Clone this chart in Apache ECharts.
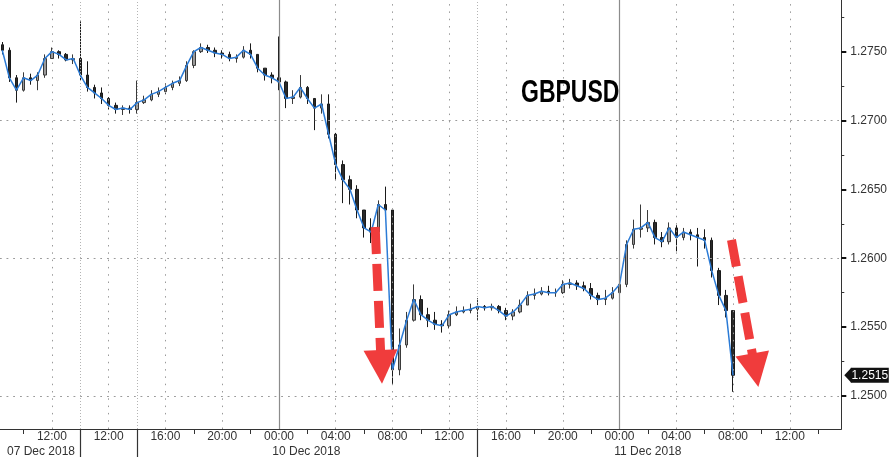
<!DOCTYPE html>
<html><head><meta charset="utf-8">
<script src="https://cdn.jsdelivr.net/npm/echarts@6/dist/echarts.min.js"></script>
<style>html,body{margin:0;padding:0;background:#fff}#c{width:890px;height:461px}</style>
</head><body><div id="c"></div>
<script>
// 30-minute bars, x in chart hours relative to the "07 Dec 12:00" gridline
const openP  = [1.2755,1.2751,1.2731,1.2722,1.2731,1.2729,1.2733,1.2745,1.2750,1.2748,1.2744,1.2745,1.2733,1.2724,1.2720,1.2716,1.2711,1.2708,1.2709,1.2708,1.2713,1.2715,1.2719,1.2721,1.2724,1.2727,1.2729,1.2740,1.2750,1.2753,1.2751,1.2749,1.2748,1.2745,1.2746,1.2751,1.2748,1.2738,1.2733,1.2731,1.2728,1.2716,1.2717,1.2724,1.2716,1.2709,1.2712,1.2690,1.2668,1.2657,1.2650,1.2635,1.2622,1.2619,1.2639,1.2635,1.2519,1.2537,1.2555,1.2570,1.2559,1.2555,1.2552,1.2551,1.2559,1.2561,1.2562,1.2563,1.2565,1.2564,1.2565,1.2562,1.2558,1.2561,1.2566,1.2573,1.2574,1.2576,1.2575,1.2575,1.2581,1.2582,1.2580,1.2578,1.2573,1.2570,1.2571,1.2575,1.2581,1.2610,1.2621,1.2622,1.2626,1.2615,1.2612,1.2622,1.2615,1.2619,1.2617,1.2615,1.2613,1.2591,1.2573,1.2562];
const highP  = [1.2757,1.2753,1.2733,1.2735,1.2734,1.2735,1.2748,1.2753,1.2751,1.2749,1.2748,1.2772,1.2743,1.2726,1.2724,1.2717,1.2713,1.2711,1.2711,1.2729,1.2718,1.2722,1.2724,1.2727,1.2729,1.2732,1.2743,1.2751,1.2756,1.2755,1.2753,1.2751,1.2750,1.2748,1.2754,1.2756,1.2748,1.2738,1.2735,1.2761,1.2729,1.2722,1.2733,1.2725,1.2716,1.2719,1.2719,1.2691,1.2671,1.2660,1.2653,1.2635,1.2629,1.2642,1.2652,1.2636,1.2549,1.2561,1.2581,1.2573,1.2564,1.2561,1.2555,1.2562,1.2565,1.2565,1.2567,1.2571,1.2566,1.2567,1.2566,1.2564,1.2563,1.2570,1.2576,1.2578,1.2579,1.2580,1.2578,1.2584,1.2585,1.2584,1.2583,1.2582,1.2575,1.2577,1.2579,1.2586,1.2613,1.2628,1.2639,1.2635,1.2628,1.2619,1.2626,1.2624,1.2622,1.2621,1.2622,1.2621,1.2615,1.2593,1.2577,1.2562];
const lowP   = [1.2748,1.2728,1.2713,1.2721,1.2726,1.2722,1.2731,1.2745,1.2745,1.2743,1.2741,1.2729,1.2721,1.2716,1.2712,1.2708,1.2705,1.2704,1.2705,1.2705,1.2712,1.2714,1.2717,1.2719,1.2722,1.2725,1.2728,1.2738,1.2749,1.2749,1.2746,1.2745,1.2743,1.2742,1.2745,1.2745,1.2735,1.2729,1.2727,1.2722,1.2709,1.2712,1.2716,1.2712,1.2693,1.2705,1.2687,1.2657,1.2640,1.2639,1.2629,1.2615,1.2611,1.2617,1.2631,1.2508,1.2515,1.2535,1.2554,1.2555,1.2550,1.2548,1.2546,1.2549,1.2558,1.2560,1.2560,1.2555,1.2562,1.2562,1.2560,1.2555,1.2555,1.2560,1.2566,1.2570,1.2573,1.2573,1.2572,1.2574,1.2578,1.2577,1.2576,1.2570,1.2566,1.2566,1.2570,1.2571,1.2579,1.2607,1.2615,1.2619,1.2610,1.2608,1.2610,1.2605,1.2613,1.2613,1.2594,1.2607,1.2586,1.2566,1.2557,1.2503];
const closeP = [1.2751,1.2731,1.2722,1.2731,1.2729,1.2733,1.2745,1.2750,1.2748,1.2744,1.2745,1.2733,1.2724,1.2720,1.2716,1.2711,1.2708,1.2709,1.2708,1.2713,1.2715,1.2719,1.2721,1.2724,1.2727,1.2729,1.2740,1.2750,1.2753,1.2751,1.2749,1.2748,1.2745,1.2746,1.2751,1.2748,1.2738,1.2733,1.2731,1.2728,1.2716,1.2717,1.2724,1.2716,1.2709,1.2712,1.2690,1.2668,1.2657,1.2650,1.2635,1.2622,1.2619,1.2639,1.2635,1.2519,1.2537,1.2555,1.2570,1.2559,1.2555,1.2552,1.2551,1.2559,1.2561,1.2562,1.2563,1.2565,1.2564,1.2565,1.2562,1.2558,1.2561,1.2566,1.2573,1.2574,1.2576,1.2575,1.2575,1.2581,1.2582,1.2580,1.2578,1.2573,1.2570,1.2571,1.2575,1.2581,1.2610,1.2621,1.2622,1.2626,1.2615,1.2612,1.2622,1.2615,1.2619,1.2617,1.2615,1.2613,1.2591,1.2573,1.2562,1.2515];
const firstBarHour = -3.5;
const barStepHours = 0.5;

const timeLabelPos = [0,4,8,12,16,20,24,28,32,36,40,44,48,52];
const timeLabels = ['12:00','12:00','16:00','20:00','00:00','04:00','08:00','12:00','16:00','20:00','00:00','04:00','08:00','12:00'];
const tickHours = [-2,10,14,18,22,26,34,38,42,46,50,54];
const dateLabelPos = [-0.77, 17.93, 42.0];
const dateLabels = ['07 Dec 2018','10 Dec 2018','11 Dec 2018'];
const sepHours = [2, 6, 30];
const dottedHours = [0,4,8,12,20,24,28,32,36,44,48,52];
const midnightHours = [16, 40];
const priceLevels = [1.2500,1.2550,1.2600,1.2650,1.2700,1.2750];
const minorLevels = [1.2525,1.2575,1.2625,1.2675,1.2725,1.2775];
const lastPrice = 1.2515;
const arrowPaths = [
  [[22.78, 1.26227],[23.21, 1.25211]],
  [[47.89, 1.26133],[49.57, 1.25187]]
];

const X_MIN = -3.66, X_MAX = 55.63, Y_MIN = 1.2476, Y_MAX = 1.27875;

const barHours = openP.map((_, i) => firstBarHour + i * barStepHours);
const candleData = barHours.map((h, i) => [h, openP[i], closeP[i], lowP[i], highP[i]]);
const lineData = barHours.map((h, i) => [h, closeP[i]]);
const FONT = 'Liberation Sans';
const near = (arr, v) => arr.findIndex(a => Math.abs(a - v) < 1e-6);

const gridMarks = []
  .concat(dottedHours.map(h => ({xAxis: h, lineStyle: {color: '#9a9a9a', width: 1, type: [1.5, 5.8]}})))
  .concat(sepHours.map(h => ({xAxis: h, lineStyle: {color: '#b4b4b4', width: 1, type: [1, 2]}})))
  .concat(midnightHours.map(h => ({xAxis: h, lineStyle: {color: '#8c8c8c', width: 1.2, type: 'solid'}})))
  .concat(priceLevels.map(p => ({yAxis: p, lineStyle: {color: '#9a9a9a', width: 1, type: [1.5, 5.2]}})));

const chart = echarts.init(document.getElementById('c'), null, {renderer: 'canvas'});
chart.setOption({
  animation: false,
  backgroundColor: '#ffffff',
  grid: {left: 0, right: 47, top: 0, bottom: 32, containLabel: false},
  xAxis: [
    {type: 'value', min: X_MIN, max: X_MAX, position: 'bottom',
     axisLine: {show: true, onZero: false, lineStyle: {color: '#333', width: 1}},
     axisTick: {show: true, customValues: tickHours, length: 5, lineStyle: {color: '#333'}},
     axisLabel: {show: true, customValues: timeLabelPos, margin: 2, color: '#333', fontFamily: FONT, fontSize: 12,
       formatter: v => { const k = near(timeLabelPos, v); return k >= 0 ? timeLabels[k] : ''; }},
     splitLine: {show: false}},
    {type: 'value', min: X_MIN, max: X_MAX, position: 'bottom', offset: 15,
     axisLine: {show: false, onZero: false}, axisTick: {show: false},
     axisLabel: {show: true, customValues: dateLabelPos, margin: 2, color: '#333', fontFamily: FONT, fontSize: 12,
       formatter: v => { const k = near(dateLabelPos, v); return k >= 0 ? dateLabels[k] : ''; }},
     splitLine: {show: false}},
    {type: 'value', min: X_MIN, max: X_MAX, position: 'bottom',
     axisLine: {show: false, onZero: false},
     axisTick: {show: true, customValues: sepHours, length: 28, lineStyle: {color: '#333', width: 1.2}},
     axisLabel: {show: false}, splitLine: {show: false}}
  ],
  yAxis: [
    {type: 'value', min: Y_MIN, max: Y_MAX, position: 'right', scale: true,
     axisLine: {show: true, onZero: false, lineStyle: {color: '#333', width: 1}},
     axisTick: {show: true, customValues: priceLevels, length: 5, lineStyle: {color: '#111', width: 2}},
     axisLabel: {show: true, customValues: priceLevels, margin: 9, color: '#333', fontFamily: FONT, fontSize: 12,
       formatter: v => v.toFixed(4)},
     splitLine: {show: false}},
    {type: 'value', min: Y_MIN, max: Y_MAX, position: 'right', scale: true,
     axisLine: {show: false, onZero: false},
     axisTick: {show: true, customValues: minorLevels, length: 3, lineStyle: {color: '#333', width: 1}},
     axisLabel: {show: false}, splitLine: {show: false}}
  ],
  graphic: [
    {type: 'text', x: 521, y: 78, scaleY: 1.35, z: 100,
     style: {text: 'GBPUSD', font: 'bold 23px "Liberation Sans"', fill: '#000', textVerticalAlign: 'top'}}
  ],
  series: [
    {type: 'line', name: 'grid', data: [], silent: true, z: 1, clip: false,
     markLine: {silent: true, symbol: ['none', 'none'], label: {show: false}, animation: false, data: gridMarks}},
    {type: 'candlestick', name: 'GBPUSD bars', data: candleData, barWidth: 3, z: 3,
     itemStyle: {color: '#9a9a9a', color0: '#2a2a2a', borderColor: '#3a3a3a', borderColor0: '#1a1a1a', borderWidth: 1}},
    {type: 'line', name: 'GBPUSD', data: lineData, showSymbol: false, symbol: 'none', z: 4,
     lineStyle: {color: '#2b7bd6', width: 1.5}},
    {type: 'line', name: 'annotations', data: [], silent: true, z: 10, clip: false,
     markPoint: {silent: true, animation: false,
       data: [
         {coord: [X_MAX, lastPrice], symbol: 'triangle', symbolSize: [15, 7], symbolRotate: 90,
          symbolOffset: [6.5, 0], itemStyle: {color: '#111'}, label: {show: false}},
         {coord: [X_MAX, lastPrice], symbol: 'rect', symbolSize: [38, 15], symbolOffset: [28.5, 0],
          itemStyle: {color: '#111'},
          label: {show: true, position: 'inside', formatter: lastPrice.toFixed(4), color: '#fff',
                  fontFamily: FONT, fontSize: 12}}
       ]},
     markLine: {silent: true, animation: false,
       data: arrowPaths.map(p => [
         {coord: p[0], symbol: 'none', lineStyle: {color: '#f03c3c', width: 9, type: [27, 10], cap: 'butt', opacity: 1}, label: {show: false}},
         {coord: p[1], symbol: 'triangle', symbolSize: 34}
       ])}}
  ]
});
</script></body></html>
